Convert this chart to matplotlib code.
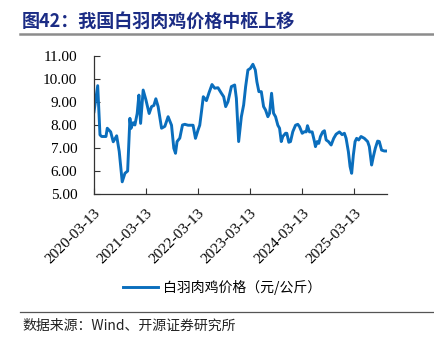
import matplotlib
matplotlib.use("Agg")
import matplotlib.pyplot as plt
from matplotlib.lines import Line2D
import pandas as pd

# Weekly white-feather broiler price, yuan/kg
dates = [
    "2020-03-13", "2020-04-08", "2020-04-24", "2020-05-06", "2020-06-05", "2020-06-14",
    "2020-07-08", "2020-07-26", "2020-08-19", "2020-09-06", "2020-09-27", "2020-10-16",
    "2020-11-04", "2020-11-20", "2020-11-27", "2020-12-13", "2020-12-25", "2021-01-10",
    "2021-01-22", "2021-02-03", "2021-02-21", "2021-03-12", "2021-04-04", "2021-04-21",
    "2021-05-07", "2021-05-21", "2021-06-06", "2021-06-30", "2021-07-23", "2021-08-15",
    "2021-09-08", "2021-09-24", "2021-10-06", "2021-10-17", "2021-11-05", "2021-11-24",
    "2021-12-10", "2022-01-02", "2022-02-06", "2022-02-23", "2022-03-13", "2022-03-25",
    "2022-04-06", "2022-04-19", "2022-05-11", "2022-05-29", "2022-06-19", "2022-07-08",
    "2022-07-31", "2022-08-24", "2022-09-09", "2022-09-23", "2022-10-09", "2022-11-02",
    "2022-11-25", "2022-12-07", "2022-12-23", "2023-01-11", "2023-01-27", "2023-02-10",
    "2023-02-26", "2023-03-15", "2023-04-02", "2023-04-19", "2023-04-30", "2023-05-14",
    "2023-05-31", "2023-06-16", "2023-06-30", "2023-07-16", "2023-07-28", "2023-08-11",
    "2023-08-25", "2023-09-08", "2023-09-24", "2023-10-06", "2023-10-18", "2023-10-29",
    "2023-11-17", "2023-11-26", "2023-12-10", "2023-12-22", "2024-01-07", "2024-01-26",
    "2024-02-11", "2024-02-23", "2024-03-13", "2024-03-29", "2024-04-10", "2024-04-19",
    "2024-05-03", "2024-05-22", "2024-06-07", "2024-06-14", "2024-06-26", "2024-07-07",
    "2024-07-19", "2024-08-04", "2024-08-16", "2024-08-28", "2024-09-13", "2024-10-02",
    "2024-10-20", "2024-11-06", "2024-11-29", "2024-12-18", "2025-01-03", "2025-01-15",
    "2025-01-31", "2025-02-12", "2025-02-23", "2025-03-07", "2025-03-19", "2025-03-30",
    "2025-04-13", "2025-04-30", "2025-05-23", "2025-06-15", "2025-06-27", "2025-07-13",
    "2025-07-25", "2025-08-08", "2025-08-24", "2025-09-05", "2025-09-21", "2025-10-10",
    "2025-10-29",
]
prices = [
    8.58, 9.71, 7.57, 7.50, 7.50, 7.86,
    7.70, 7.27, 7.53, 6.85, 5.53, 5.90,
    6.00, 8.29, 7.85, 8.10, 8.00, 8.50,
    9.30, 8.07, 9.52, 9.10, 8.50, 8.80,
    8.85, 9.14, 8.80, 7.86, 7.94, 8.36,
    7.99, 6.99, 6.77, 7.28, 7.43, 8.00,
    8.03, 7.99, 7.99, 7.42, 7.78, 7.99,
    8.57, 9.23, 9.06, 9.40, 9.76, 9.60,
    9.62, 9.38, 9.23, 8.80, 9.01, 9.67,
    9.74, 9.16, 7.28, 8.36, 8.87, 9.67,
    10.39, 10.46, 10.64, 10.39, 9.88, 9.45,
    9.45, 8.80, 8.65, 8.36, 8.51, 9.38,
    8.51, 8.36, 7.99, 7.86, 7.28, 7.50,
    7.64, 7.64, 7.25, 7.28, 7.71, 7.99,
    8.03, 7.93, 7.64, 7.71, 7.70, 7.97,
    7.70, 7.70, 7.28, 7.06, 7.28, 7.20,
    7.50, 7.70, 7.75, 7.35, 7.28, 7.13,
    7.42, 7.60, 7.70, 7.58, 7.64, 7.42,
    6.84, 6.19, 5.90, 6.70, 7.28, 7.42,
    7.35, 7.50, 7.42, 7.28, 7.06, 6.26,
    6.62, 6.99, 7.30, 7.28, 6.91, 6.87,
    6.87,
]
tick_dates = ["2020-03-13", "2021-03-13", "2022-03-13", "2023-03-13", "2024-03-13", "2025-03-13"]
series_name = "白羽肉鸡价格（元/公斤）"
title = "图42：我国白羽肉鸡价格中枢上移"
source = "数据来源：Wind、开源证券研究所"

cjk = ["Noto Sans CJK SC", "DejaVu Sans"]
num_font = ["Liberation Serif", "DejaVu Serif"]

x = pd.to_datetime(dates)
ticks = pd.to_datetime(tick_dates)

W, H = 435, 340
fig = plt.figure(figsize=(W / 100, H / 100), dpi=100)
ax = fig.add_axes([94 / W, 1 - 194 / H, (387 - 94) / W, (194 - 56) / H])

line_color = "#0A6EBD"
ax.plot(x, prices, color=line_color, lw=2.1, solid_joinstyle="round")

ax.set_ylim(5, 11)
ax.set_yticks(range(5, 12))
ax.set_yticklabels([f"{v:.2f}" for v in range(5, 12)], fontfamily=num_font, fontsize=11)
ax.set_xlim(x[0], x[-1])
ax.set_xticks(ticks)
ax.set_xticklabels(tick_dates, rotation=45, ha="right", rotation_mode="anchor",
                   fontfamily=num_font, fontsize=11)
ax.tick_params(axis="both", direction="in", length=4, width=0.8, colors="#333333",
               labelcolor="black")
ax.tick_params(axis="y", pad=12)
ax.tick_params(axis="x", pad=9)
for s in ("top", "right"):
    ax.spines[s].set_visible(False)
for s in ("left", "bottom"):
    ax.spines[s].set_color("#333333")
    ax.spines[s].set_linewidth(0.9)

# Title with rule underneath
fig.text(22 / W, 1 - 21 / H, title, fontfamily=cjk, fontsize=13, fontweight="bold",
         color="#1B2C85", va="center", ha="left")
fig.add_artist(Line2D([20 / W, 1.0], [1 - 33.5 / H] * 2, color="#8C8C8C", lw=1.8))

# Legend
handle = Line2D([], [], color=line_color, lw=2.1)
fig.legend([handle], [series_name], loc="center", bbox_to_anchor=(222 / W, 1 - 287 / H),
           frameon=False, prop={"family": cjk, "size": 10}, handlelength=2.5,
           handletextpad=0.4)

# Source rule and note
fig.add_artist(Line2D([20 / W, 1.0], [1 - 312 / H] * 2, color="#555555", lw=0.9))
fig.text(22 / W, 1 - 326 / H, source, fontfamily=cjk, fontsize=10, color="#222222",
         va="center", ha="left")

fig.savefig("out.png", dpi=100)
